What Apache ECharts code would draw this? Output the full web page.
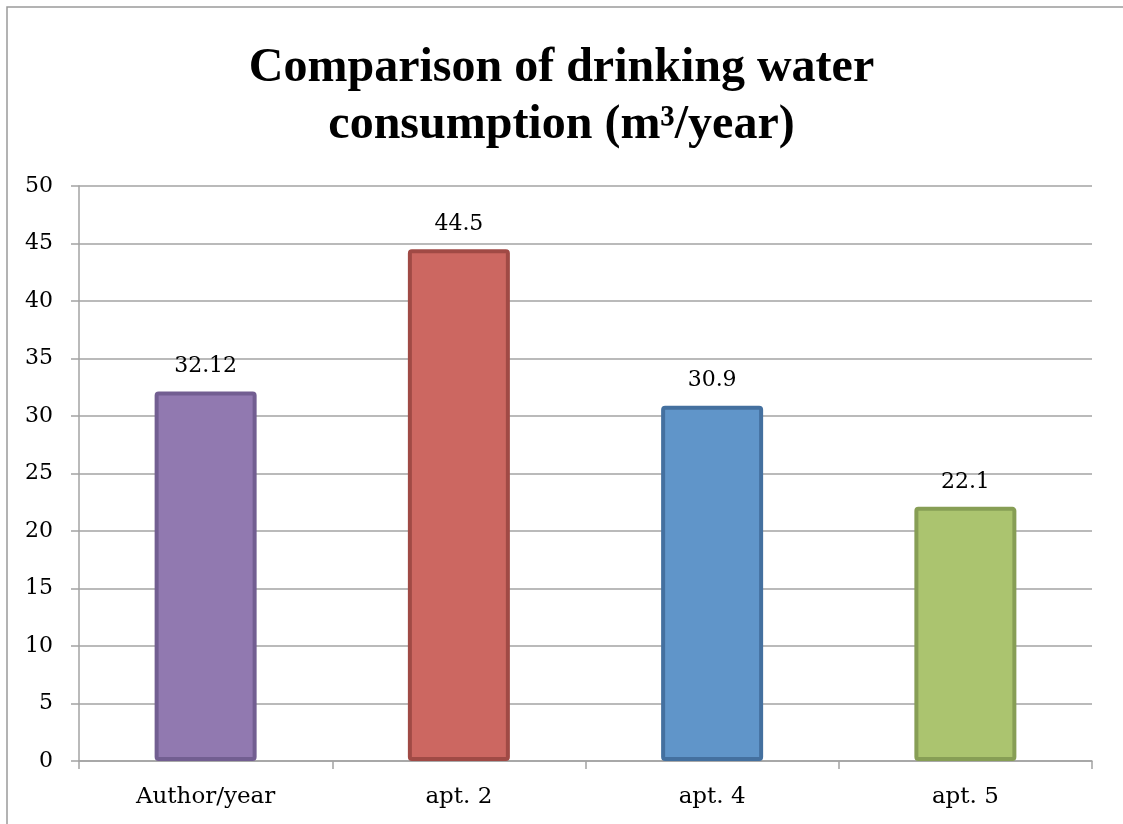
<!DOCTYPE html>
<html>
<head>
<meta charset="utf-8">
<script src="https://cdn.jsdelivr.net/npm/echarts@6/dist/echarts.min.js"></script>
<style>
  html, body { margin: 0; padding: 0; background: #fff; }
  #chart { width: 1123px; height: 824px; }
</style>
</head>
<body>
<div id="chart"></div>
<script>
//  Data

var categories = ['Author/year', 'apt. 2', 'apt. 4', 'apt. 5'];
var values = [32.12, 44.5, 30.9, 22.1];
var fillColors = ['#9179b0', '#cc6761', '#6095c9', '#abc46f'];
var borderColors = ['#725e91', '#a04a45', '#44709f', '#879e55'];

//  Chart

var myChart = echarts.init(document.getElementById('chart'), null, {renderer: 'canvas'});

var gridColor = '#a3a3a3';
var serif = '"DejaVu Serif", serif';

var option = {
  animation: false,
  backgroundColor: '#fff',
  title: {
    text: 'Comparison of drinking water\nconsumption (m³/year)',
    left: 'center',
    top: 35,
    textStyle: {
      fontFamily: '"Liberation Serif", "Times New Roman", serif',
      fontWeight: 'bold',
      fontSize: 48,
      lineHeight: 57,
      color: '#000'
    }
  },
  graphic: [{
    type: 'rect',
    shape: {x: 7, y: 7, width: 1300, height: 1000},
    style: {fill: 'none', stroke: '#9a9a9a', lineWidth: 1.5},
    silent: true
  }],
  grid: {
    left: 79,
    right: 31,
    top: 186,
    bottom: 63
  },
  xAxis: {
    type: 'category',
    data: categories,
    axisLine: {lineStyle: {color: gridColor, width: 1.5}},
    axisTick: {show: true, length: 8, lineStyle: {color: gridColor, width: 1.5}},
    axisLabel: {
      color: '#000',
      fontFamily: serif,
      fontSize: 23,
      margin: 25
    }
  },
  yAxis: {
    type: 'value',
    min: 0,
    max: 50,
    interval: 5,
    axisLine: {show: true, lineStyle: {color: gridColor, width: 1.5}},
    axisTick: {show: true, length: 8, lineStyle: {color: gridColor, width: 1.5}},
    axisLabel: {
      color: '#000',
      fontFamily: serif,
      fontSize: 22,
      margin: 26
    },
    splitLine: {lineStyle: {color: gridColor, width: 1.5}}
  },
  series: [{
    type: 'bar',
    barWidth: 102,
    data: values.map(function(v, i) {
      return {
        value: v,
        itemStyle: {
          color: fillColors[i],
          borderColor: borderColors[i],
          borderWidth: 4,
          borderRadius: 2
        }
      };
    }),
    label: {
      show: true,
      position: 'top',
      distance: 14,
      color: '#000',
      fontFamily: serif,
      fontSize: 22
    }
  }]
};

myChart.setOption(option);
</script>
</body>
</html>
